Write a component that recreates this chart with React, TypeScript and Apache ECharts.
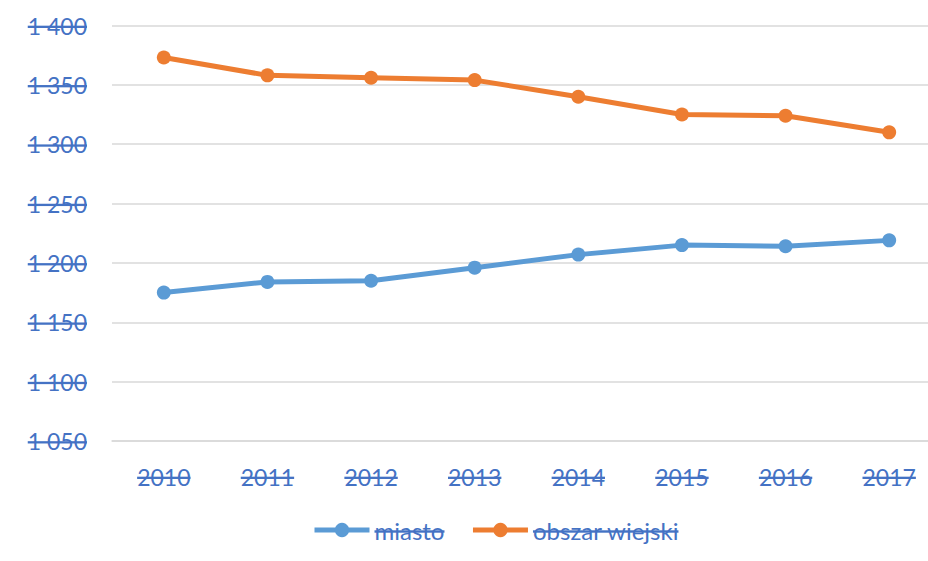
import React, { useEffect, useRef } from "react";
import * as echarts from "echarts";

const years = ["2010", "2011", "2012", "2013", "2014", "2015", "2016", "2017"];
const miasto = [1175, 1184, 1185, 1196, 1207, 1215, 1214, 1219];
const obszarWiejski = [1373, 1358, 1356, 1354, 1340, 1325, 1324, 1310];
const seriesNames = ["miasto", "obszar wiejski"];
const yMin = 1050;
const yMax = 1400;
const yStep = 50;

const FONT = "Lato";
const TEXT_COLOR = "#4472C4";

export default function App() {
  const ref = useRef<HTMLDivElement>(null);
  useEffect(() => {
    if (!ref.current) return;
    const chart = echarts.init(ref.current, undefined, { renderer: "svg" });
    chart.setOption({
      animation: false,
      backgroundColor: "#ffffff",
      grid: { left: 112, right: 0, top: 25.5, bottom: 120, containLabel: false },
      legend: {
        left: 307,
        top: 513,
        itemWidth: 55,
        itemHeight: 18,
        itemGap: 26,
        lineStyle: { width: 5 },
        textStyle: { color: TEXT_COLOR, fontFamily: FONT, fontSize: 24 },
        data: seriesNames,
      },
      xAxis: {
        type: "category",
        data: years,
        boundaryGap: true,
        axisLine: { show: true, lineStyle: { color: "#D9D9D9", width: 1.5 } },
        axisTick: { show: false },
        axisLabel: { color: TEXT_COLOR, fontFamily: FONT, fontSize: 23, margin: 24 },
      },
      yAxis: {
        type: "value",
        min: yMin,
        max: yMax,
        interval: yStep,
        axisLine: { show: false },
        axisTick: { show: false },
        splitLine: { lineStyle: { color: "#D9D9D9", width: 1.5 } },
        axisLabel: {
          color: TEXT_COLOR,
          fontFamily: FONT,
          fontSize: 23,
          margin: 25,
          formatter: (v: number) => {
            const s = String(v);
            return s.length > 3 ? s.slice(0, s.length - 3) + " " + s.slice(-3) : s;
          },
        },
      },
      series: [
        {
          name: seriesNames[0],
          type: "line",
          data: miasto,
          symbol: "circle",
          symbolSize: 14,
          color: "#5B9BD5",
          lineStyle: { width: 5, color: "#5B9BD5" },
          itemStyle: { color: "#5B9BD5" },
        },
        {
          name: seriesNames[1],
          type: "line",
          data: obszarWiejski,
          symbol: "circle",
          symbolSize: 14,
          color: "#ED7D31",
          lineStyle: { width: 5, color: "#ED7D31" },
          itemStyle: { color: "#ED7D31" },
        },
      ],
    });
    return () => chart.dispose();
  }, []);
  return (
    <>
      <style>{`
        body { margin: 0; }
        .chart-root svg text { text-decoration: line-through; text-decoration-thickness: 2px; }
      `}</style>
      <div style={{ position: "fixed", left: 0, top: 0, width: 928, height: 561, overflow: "hidden" }}>
        <div ref={ref} className="chart-root" style={{ width: 941, height: 561 }} />
      </div>
    </>
  );
}
